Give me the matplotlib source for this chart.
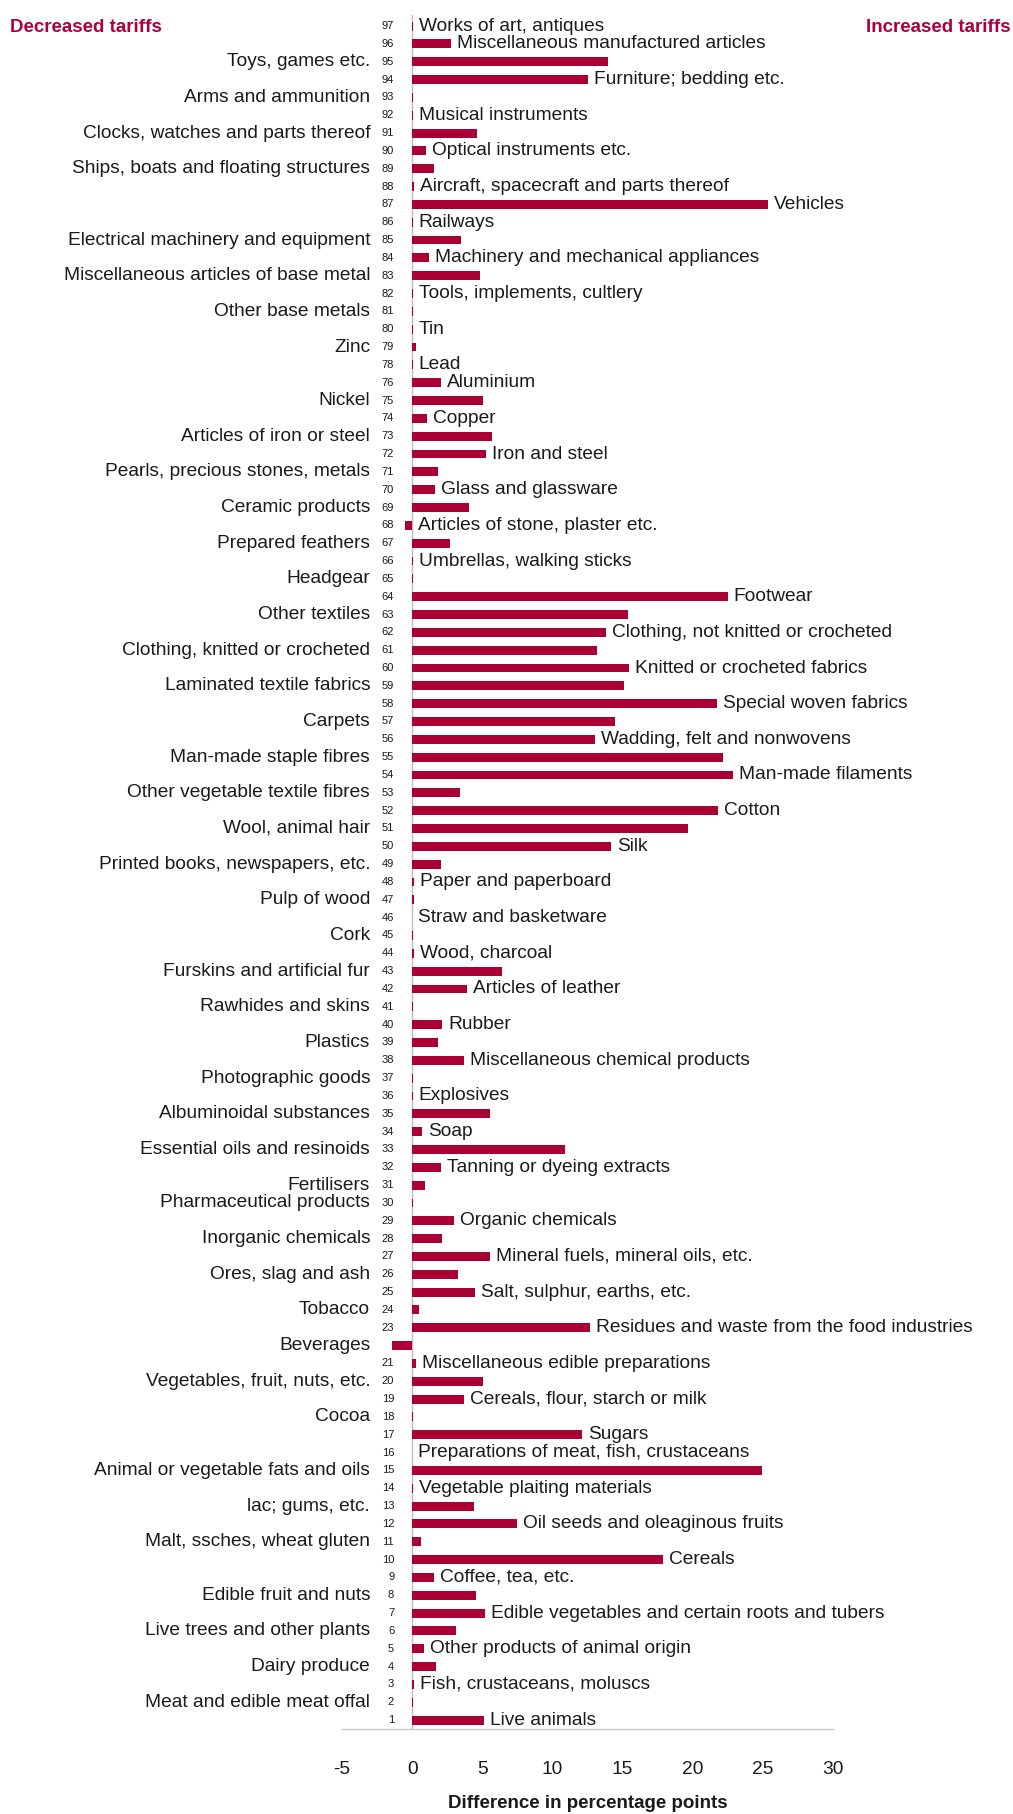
import matplotlib
matplotlib.use("Agg")
import matplotlib.pyplot as plt

plt.rcParams['font.family'] = ['Liberation Sans', 'DejaVu Sans']

chapters = [1, 2, 3, 4, 5, 6, 7, 8, 9, 10, 11, 12, 13, 14, 15, 16, 17, 18, 19, 20,
            21, 22, 23, 24, 25, 26, 27, 28, 29, 30, 31, 32, 33, 34, 35, 36, 37, 38, 39, 40,
            41, 42, 43, 44, 45, 46, 47, 48, 49, 50, 51, 52, 53, 54, 55, 56, 57, 58, 59, 60,
            61, 62, 63, 64, 65, 66, 67, 68, 69, 70, 71, 72, 73, 74, 75, 76, 78, 79, 80, 81,
            82, 83, 84, 85, 86, 87, 88, 89, 90, 91, 92, 93, 94, 95, 96, 97]

names = [
    "Live animals", "Meat and edible meat offal", "Fish, crustaceans, moluscs",
    "Dairy produce", "Other products of animal origin", "Live trees and other plants",
    "Edible vegetables and certain roots and tubers", "Edible fruit and nuts",
    "Coffee, tea, etc.", "Cereals", "Malt, ssches, wheat gluten",
    "Oil seeds and oleaginous fruits", "lac; gums, etc.", "Vegetable plaiting materials",
    "Animal or vegetable fats and oils", "Preparations of meat, fish, crustaceans",
    "Sugars", "Cocoa", "Cereals, flour, starch or milk", "Vegetables, fruit, nuts, etc.",
    "Miscellaneous edible preparations", "Beverages",
    "Residues and waste from the food industries", "Tobacco", "Salt, sulphur, earths, etc.",
    "Ores, slag and ash", "Mineral fuels, mineral oils, etc.", "Inorganic chemicals",
    "Organic chemicals", "Pharmaceutical products", "Fertilisers",
    "Tanning or dyeing extracts", "Essential oils and resinoids", "Soap",
    "Albuminoidal substances", "Explosives", "Photographic goods",
    "Miscellaneous chemical products", "Plastics", "Rubber", "Rawhides and skins",
    "Articles of leather", "Furskins and artificial fur", "Wood, charcoal", "Cork",
    "Straw and basketware", "Pulp of wood", "Paper and paperboard",
    "Printed books, newspapers, etc.", "Silk", "Wool, animal hair", "Cotton",
    "Other vegetable textile fibres", "Man-made filaments", "Man-made staple fibres",
    "Wadding, felt and nonwovens", "Carpets", "Special woven fabrics",
    "Laminated textile fabrics", "Knitted or crocheted fabrics",
    "Clothing, knitted or crocheted", "Clothing, not knitted or crocheted",
    "Other textiles", "Footwear", "Headgear", "Umbrellas, walking sticks",
    "Prepared feathers", "Articles of stone, plaster etc.", "Ceramic products",
    "Glass and glassware", "Pearls, precious stones, metals", "Iron and steel",
    "Articles of iron or steel", "Copper", "Nickel", "Aluminium", "Lead", "Zinc", "Tin",
    "Other base metals", "Tools, implements, cultlery",
    "Miscellaneous articles of base metal", "Machinery and mechanical appliances",
    "Electrical machinery and equipment", "Railways", "Vehicles",
    "Aircraft, spacecraft and parts thereof", "Ships, boats and floating structures",
    "Optical instruments etc.", "Clocks, watches and parts thereof",
    "Musical instruments", "Arms and ammunition", "Furniture; bedding etc.",
    "Toys, games etc.", "Miscellaneous manufactured articles", "Works of art, antiques",
]

values = [5.14, 0.03, 0.14, 1.71, 0.86, 3.14, 5.21, 4.57, 1.57, 17.86,
          0.64, 7.5, 4.43, 0.03, 24.93, 0.0, 12.14, 0.03, 3.71, 5.07,
          0.29, -1.43, 12.71, 0.5, 4.5, 3.29, 5.57, 2.14, 3.0, 0.07,
          0.93, 2.07, 10.93, 0.71, 5.57, 0.03, 0.07, 3.71, 1.86, 2.14,
          0.03, 3.93, 6.43, 0.1, 0.03, 0.0, 0.1, 0.14, 2.07, 14.21,
          19.64, 21.79, 3.43, 22.86, 22.14, 13.0, 14.43, 21.71, 15.07, 15.43,
          13.21, 13.79, 15.36, 22.5, 0.03, 0.05, 2.71, -0.5, 4.07, 1.64,
          1.86, 5.29, 5.71, 1.07, 5.07, 2.07, 0.03, 0.29, 0.05, 0.05,
          0.05, 4.86, 1.21, 3.5, 0.05, 25.36, 0.14, 1.57, 1.0, 4.64,
          0.05, 0.03, 12.5, 13.93, 2.79, 0.05]

# 'R' = label right of the bar, 'L' = label on the left side
label_side = ['R', 'L', 'R', 'L', 'R', 'L', 'R', 'L', 'R', 'R',
              'L', 'R', 'L', 'R', 'L', 'R', 'R', 'L', 'R', 'L',
              'R', 'L', 'R', 'L', 'R', 'L', 'R', 'L', 'R', 'L',
              'L', 'R', 'L', 'R', 'L', 'R', 'L', 'R', 'L', 'R',
              'L', 'R', 'L', 'R', 'L', 'R', 'L', 'R', 'L', 'R',
              'L', 'R', 'L', 'R', 'L', 'R', 'L', 'R', 'L', 'R',
              'L', 'R', 'L', 'R', 'L', 'R', 'L', 'R', 'L', 'R',
              'L', 'R', 'L', 'R', 'L', 'R', 'R', 'L', 'R', 'L',
              'R', 'L', 'R', 'L', 'R', 'R', 'R', 'L', 'R', 'L',
              'R', 'L', 'R', 'L', 'R', 'R']

x_ticks = [-5, 0, 5, 10, 15, 20, 25, 30]

BAR = '#AB0033'
TITLE = '#B0003C'
TXT = '#1A1A1A'
FS = 13.8

W, H = 1013, 1814
fig = plt.figure(figsize=(W / 100, H / 100), dpi=100)
ax_left, ax_right = 342, 833
ax_top, ax_bot = 15, 1729
ax = fig.add_axes([ax_left / W, 1 - ax_bot / H, (ax_right - ax_left) / W, (ax_bot - ax_top) / H])

pos = list(range(len(chapters)))
ax.barh(pos, values, height=0.5, color=BAR, zorder=3)
ax.set_xlim(-5, 30)
ax.set_ylim(-0.5, len(chapters) - 1 + 0.62)
ax.axvline(0, color='#BDBDBD', lw=1.0, zorder=2)

for s in ['left', 'right', 'top']:
    ax.spines[s].set_visible(False)
ax.spines['bottom'].set_color('#C8C8C8')
ax.spines['bottom'].set_linewidth(1.0)
ax.set_yticks([])
ax.set_xticks(x_ticks)
ax.set_xticklabels([str(t) for t in x_ticks])
ax.tick_params(axis='x', length=0, pad=23, labelsize=FS, labelcolor=TXT)

for p, ch, nm, v, side in zip(pos, chapters, names, values, label_side):
    # chapter number hidden only where a negative bar would cover it
    if v > -1.0:
        ax.annotate(str(ch), xy=(0, p), xytext=(-18, 0), textcoords='offset pixels',
                    ha='right', va='center', fontsize=8, color=TXT, zorder=1)
    if side == 'R':
        ax.annotate(nm, xy=(max(v, 0), p), xytext=(6, 0), textcoords='offset pixels',
                    ha='left', va='center', fontsize=FS, color=TXT, annotation_clip=False)
    else:
        ax.annotate(nm, xy=(0, p), xytext=(-42, 0), textcoords='offset pixels',
                    ha='right', va='center', fontsize=FS, color=TXT, annotation_clip=False)

ax.set_xlabel('Difference in percentage points', fontsize=13.5, fontweight='bold',
              color=TXT, labelpad=12)

fig.text(10 / W, 1 - 27 / H, 'Decreased tariffs', ha='left', va='center',
         fontsize=13.5, fontweight='bold', color=TITLE)
fig.text(1011 / W, 1 - 27 / H, 'Increased tariffs', ha='right', va='center',
         fontsize=13.5, fontweight='bold', color=TITLE)

fig.savefig('out.png', dpi=100)
